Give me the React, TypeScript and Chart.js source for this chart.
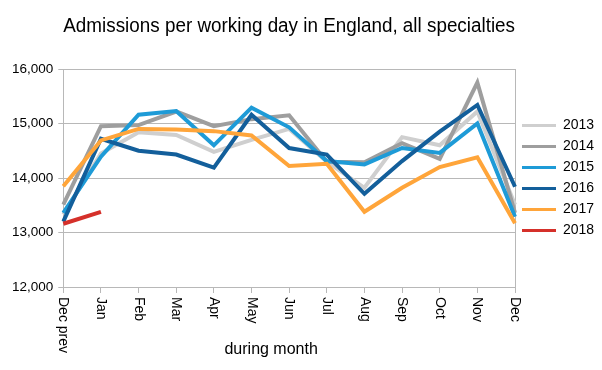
import React, { useEffect, useRef } from 'react';
import { Chart, registerables } from 'chart.js';

Chart.register(...registerables);

const FONT = '"Liberation Sans", Arial, Helvetica, sans-serif';

const months = ['Dec prev', 'Jan', 'Feb', 'Mar', 'Apr', 'May', 'Jun', 'Jul', 'Aug', 'Sep', 'Oct', 'Nov', 'Dec'];
const years = ['2013', '2014', '2015', '2016', '2017', '2018'];

const v2013 = [13330, 14450, 14840, 14790, 14480, 14700, 14900, 14300, 13820, 14750, 14600, 15220, 13510];
const v2014 = [13510, 14950, 14970, 15220, 14950, 15080, 15150, 14300, 14290, 14640, 14350, 15750, 13360];
const v2015 = [13360, 14390, 15160, 15230, 14600, 15290, 14930, 14310, 14250, 14550, 14460, 15000, 13290];
const v2016 = [13200, 14720, 14500, 14430, 14190, 15160, 14550, 14430, 13710, 14310, 14850, 15340, 13840];
const v2017 = [13850, 14690, 14900, 14890, 14860, 14780, 14220, 14260, 13380, 13820, 14200, 14380, 13170];
const v2018 = [13160, 13380];

const series = [v2013, v2014, v2015, v2016, v2017, v2018];
const colors = ['#cfcfcf', '#9e9e9e', '#1e9bd7', '#135f9b', '#ffa53a', '#d5302a'];

const yMin = 12000;
const yMax = 16000;
const yStep = 1000;

const titleText = 'Admissions per working day in England, all specialties';
const xAxisTitle = 'during month';

const GRID = '#b8b8b8';

const xLabelPlugin = {
  id: 'xLabelsRotated',
  afterDraw(chart: any) {
    const sx = chart.scales.x;
    const ctx = chart.ctx;
    const area = chart.chartArea;
    ctx.save();
    ctx.fillStyle = '#000';
    ctx.font = `14px ${FONT}`;
    ctx.textAlign = 'left';
    ctx.textBaseline = 'middle';
    sx.ticks.forEach((t: any, i: number) => {
      const x = sx.getPixelForTick(i);
      ctx.save();
      ctx.translate(x, sx.top + 10);
      ctx.rotate(Math.PI / 2);
      ctx.fillText(String(sx.getLabelForValue(t.value)), 0, 0);
      ctx.restore();
    });
    ctx.font = `16px ${FONT}`;
    ctx.textAlign = 'center';
    ctx.fillText(xAxisTitle, (area.left + area.right) / 2 - 18, 350);
    ctx.restore();
  },
};

export default function App() {
  const ref = useRef<HTMLCanvasElement | null>(null);

  useEffect(() => {
    if (!ref.current) return;
    const lastIdx = months.length - 1;
    const chart = new Chart(ref.current, {
      type: 'line',
      data: {
        labels: months,
        datasets: years.map((y, i) => ({
          label: y,
          data: series[i],
          borderColor: colors[i],
          backgroundColor: colors[i],
          borderWidth: 4,
          pointRadius: 0,
          pointHoverRadius: 0,
          tension: 0,
          fill: false,
          order: years.length - i,
        })),
      },
      options: {
        responsive: false,
        animation: false,
        devicePixelRatio: 1,
        layout: { padding: { left: 7, right: 0, top: 0, bottom: 77 } },
        font: { family: FONT },
        plugins: {
          tooltip: { enabled: false },
          title: {
            display: true,
            text: titleText,
            fullSize: false,
            color: '#000',
            font: { family: FONT, size: 20, weight: 'normal' },
            padding: { top: 14, bottom: 31 },
          },
          legend: {
            position: 'right',
            fullSize: false,
            maxWidth: 87,
            labels: {
              boxWidth: 34,
              boxHeight: 3,
              padding: 7,
              color: '#000',
              font: { family: FONT, size: 14 },
              generateLabels: (c: any) =>
                Chart.defaults.plugins.legend.labels.generateLabels(c).map((it: any) => ({
                  ...it,
                  fillStyle: it.strokeStyle,
                  lineWidth: 0,
                })),
              sort: (a: any, b: any) => a.datasetIndex - b.datasetIndex,
            },
          },
        },
        scales: {
          x: {
            type: 'category',
            offset: false,
            ticks: { display: false },
            grid: {
              display: true,
              drawOnChartArea: true,
              drawTicks: true,
              tickLength: 6,
              tickColor: GRID,
              color: (ctx: any) => (ctx.index === lastIdx ? GRID : 'rgba(0,0,0,0)'),
            },
            border: { display: true, color: GRID },
          },
          y: {
            min: yMin,
            max: yMax,
            ticks: {
              stepSize: yStep,
              padding: 5,
              color: '#000',
              font: { family: FONT, size: 13.5 },
              callback: (v: any) => Number(v).toLocaleString('en-US'),
            },
            grid: { color: GRID, tickLength: 5, tickColor: GRID },
            border: { display: true, color: GRID },
          },
        },
      },
      plugins: [xLabelPlugin],
    });
    return () => chart.destroy();
  }, []);

  return (
    <div style={{ position: 'absolute', left: 0, top: 0, width: 602, height: 370, background: '#fff' }}>
      <canvas ref={ref} width={602} height={370} style={{ display: 'block', width: 602, height: 370 }} />
    </div>
  );
}
